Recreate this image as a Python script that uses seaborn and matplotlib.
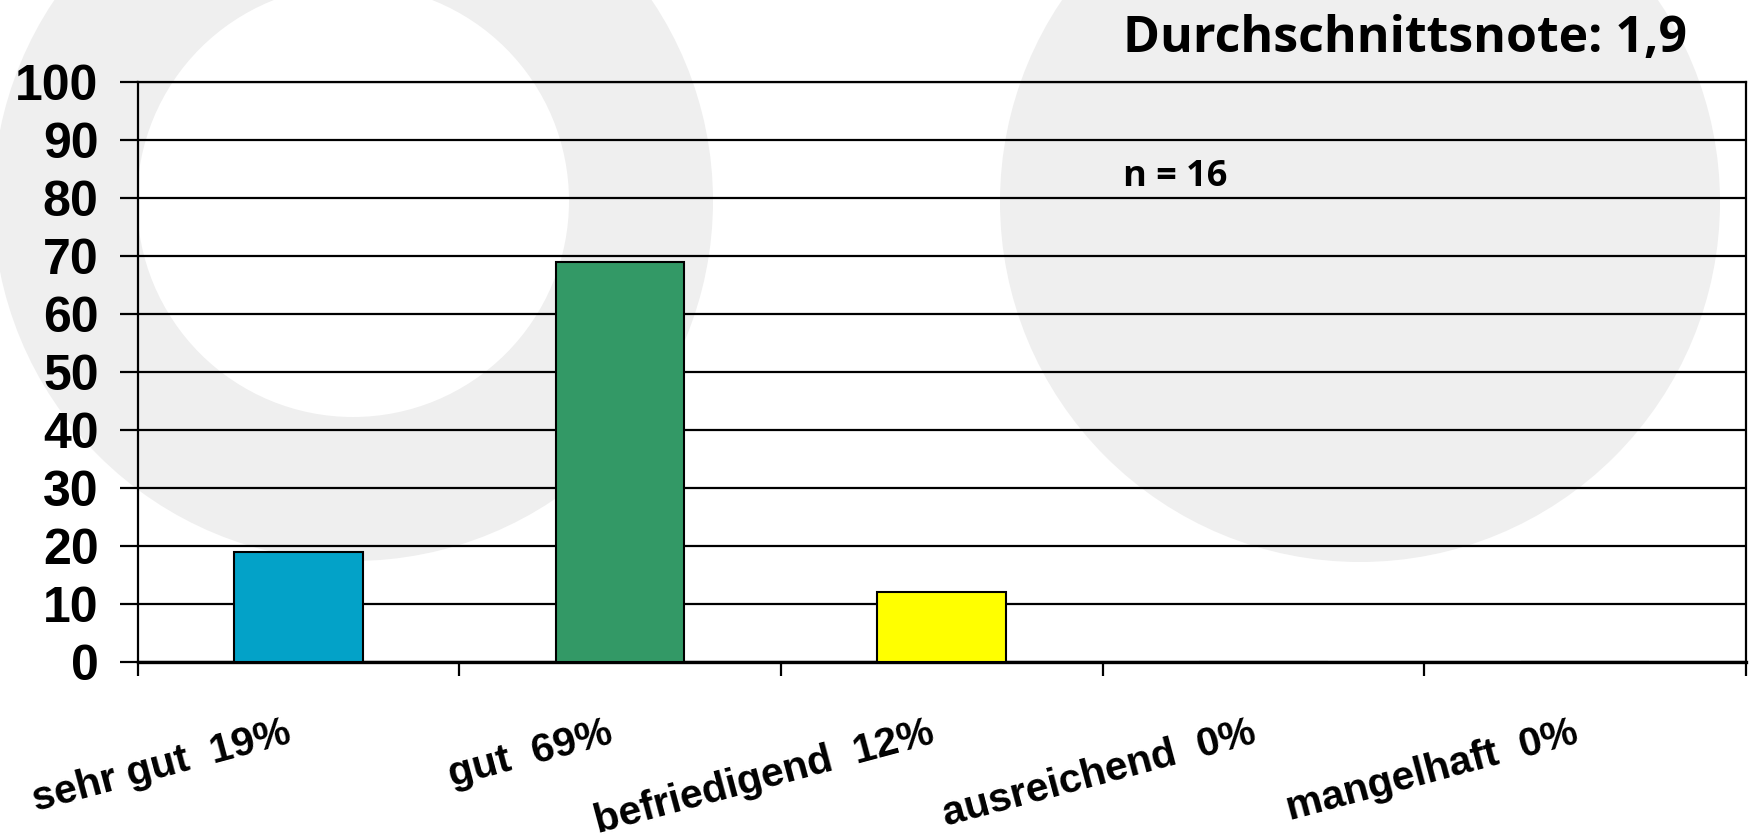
import matplotlib
matplotlib.use("Agg")
import matplotlib.pyplot as plt
import matplotlib.transforms as mtransforms
from matplotlib.patches import Circle
import seaborn as sns
import pandas as pd

# Daten
noten = ["sehr gut", "gut", "befriedigend", "ausreichend", "mangelhaft"]
anteile = [19, 69, 12, 0, 0]
farben = ["#03A2C8", "#339966", "#FFFF00", "#FF9900", "#FF0000"]
beschriftungen = [f"{n}  {a}%" for n, a in zip(noten, anteile)]
y_ticks = list(range(0, 101, 10))
durchschnitt = "1,9"
anzahl = 16

df = pd.DataFrame({"Note": noten, "Anteil": anteile})

W, H = 1752, 839
fig = plt.figure(figsize=(W / 100, H / 100), dpi=100)

# Hintergrund mit grauen Kreisen
bg = fig.add_axes([0, 0, 1, 1], zorder=0)
bg.set_xlim(0, W)
bg.set_ylim(H, 0)
bg.axis("off")
grau = "#EFEFEF"
bg.add_patch(Circle((353, 201), 360, color=grau, lw=0))
bg.add_patch(Circle((353, 201), 216, color="white", lw=0))
bg.add_patch(Circle((1360, 202), 360, color=grau, lw=0))

# Diagramm
ax = fig.add_axes([137.5 / W, (H - 662) / H, (1746 - 137.5) / W, (662 - 82) / H], zorder=1)
ax.set_facecolor("none")

sns.barplot(data=df, x="Note", y="Anteil", hue="Note", palette=farben, legend=False,
            width=0.4, saturation=1, edgecolor="black", linewidth=1.5, ax=ax, zorder=3)

ax.set_xlim(-0.5, len(noten) - 0.5)
ax.set_ylim(0, 100)
ax.set_yticks(y_ticks)
ax.yaxis.grid(True, color="black", linewidth=1.6, zorder=0)
ax.set_axisbelow(True)
ax.set_xlabel("")
ax.set_ylabel("")

for s in ax.spines.values():
    s.set_color("black")
    s.set_linewidth(1.6)
ax.spines["bottom"].set_linewidth(2.4)

ax.tick_params(axis="y", length=13, width=1.6, pad=15, labelsize=36)
for lbl in ax.get_yticklabels():
    lbl.set_fontfamily("Liberation Sans")
    lbl.set_fontweight("bold")

# Tickmarken an Kategoriegrenzen, Beschriftungen in der Mitte
ax.set_xticks(range(len(noten)))
ax.set_xticklabels(beschriftungen, rotation=15, ha="right", rotation_mode="anchor",
                   fontsize=29.5, fontweight="bold", fontfamily="Liberation Sans")
ax.set_xticks([i - 0.5 for i in range(len(noten) + 1)], minor=True)
ax.tick_params(axis="x", which="major", length=0, pad=37)
ax.tick_params(axis="x", which="minor", length=10, width=1.6, direction="out")
verschiebung = mtransforms.ScaledTranslation(-13 / 100, 0, fig.dpi_scale_trans)
for lbl in ax.get_xticklabels():
    lbl.set_transform(lbl.get_transform() + verschiebung)

fig.text(1123 / W, 1 - 52 / H, f"Durchschnittsnote: {durchschnitt}", fontsize=36,
         fontweight="bold", fontfamily="Open Sans", va="baseline", ha="left")
fig.text(1123 / W, 1 - 186 / H, f"n = {anzahl}", fontsize=26,
         fontweight="bold", fontfamily="Open Sans", va="baseline", ha="left")

fig.savefig("out.png", dpi=100)
